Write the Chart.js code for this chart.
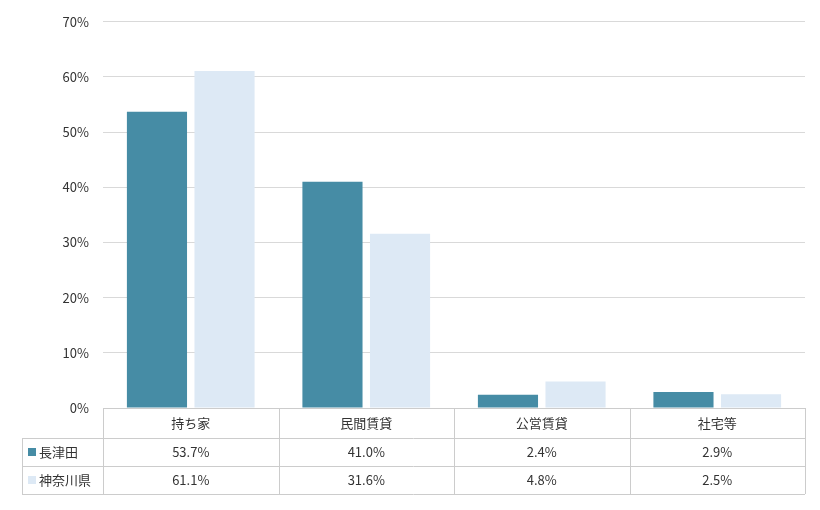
<!DOCTYPE html>
<html><head><meta charset="utf-8">
<script src="https://cdn.jsdelivr.net/npm/chart.js@4/dist/chart.umd.min.js"></script>
<style>body{margin:0;background:#fff}#wrap{width:820px;height:510px;position:relative}</style>
</head><body><div id="wrap"><canvas id="c"></canvas></div>
<script>
const categories = ['持ち家', '民間賃貸', '公営賃貸', '社宅等'];
const seriesNames = ['長津田', '神奈川県'];
const nagatsuta = [53.7, 41.0, 2.4, 2.9];
const kanagawa = [61.1, 31.6, 4.8, 2.5];
const colors = ['#468CA5', '#DDE9F5'];
const FONT = '"Noto Sans CJK JP", "Noto Sans", sans-serif';

const tablePlugin = {
    id: 'table',
    afterDraw(chart) {
        const ctx = chart.ctx;
        const x = chart.scales.x;
        const top = chart.chartArea.bottom;
        const rows = [top, top + 30, top + 58, top + 86];
        const left = 22, right = chart.chartArea.right, colL = chart.chartArea.left;
        const step = (right - colL) / categories.length;
        ctx.save();
        ctx.strokeStyle = '#cccccc';
        ctx.lineWidth = 1;
        ctx.beginPath();
        // horizontal lines
        ctx.moveTo(colL, rows[0] + 0.5); ctx.lineTo(right, rows[0] + 0.5);
        for (let i = 1; i < 4; i++) { ctx.moveTo(left, rows[i] + 0.5); ctx.lineTo(right, rows[i] + 0.5); }
        // vertical lines
        ctx.moveTo(left + 0.5, rows[1]); ctx.lineTo(left + 0.5, rows[3]);
        for (let i = 0; i <= categories.length; i++) {
            const xx = Math.round(colL + i * step) + 0.5;
            ctx.moveTo(xx, rows[0]); ctx.lineTo(xx, rows[3]);
        }
        ctx.stroke();
        ctx.fillStyle = '#333';
        ctx.font = '13px ' + FONT;
        ctx.textAlign = 'center';
        ctx.textBaseline = 'middle';
        categories.forEach((c, i) => {
            const cx = x.getPixelForValue(i);
            ctx.fillText(c, cx, (rows[0] + rows[1]) / 2);
            ctx.fillText(nagatsuta[i].toFixed(1) + '%', cx, (rows[1] + rows[2]) / 2);
            ctx.fillText(kanagawa[i].toFixed(1) + '%', cx, (rows[2] + rows[3]) / 2);
        });
        ctx.textAlign = 'left';
        seriesNames.forEach((n, i) => {
            const cy = (rows[i + 1] + rows[i + 2]) / 2;
            ctx.fillStyle = colors[i];
            ctx.fillRect(28, cy - 4, 8, 8);
            ctx.fillStyle = '#333';
            ctx.fillText(n, 39, cy);
        });
        ctx.restore();
    }
};

new Chart(document.getElementById('c'), {
    type: 'bar',
    data: {
        labels: categories,
        datasets: [
            { label: seriesNames[0], data: nagatsuta, backgroundColor: colors[0] },
            { label: seriesNames[1], data: kanagawa, backgroundColor: colors[1] }
        ]
    },
    options: {
        responsive: true,
        maintainAspectRatio: false,
        animation: false,
        layout: { padding: { top: 10, bottom: 94, right: 15 } },
        categoryPercentage: 0.77,
        barPercentage: 0.89,
        plugins: { legend: { display: false }, tooltip: { enabled: false } },
        scales: {
            x: { ticks: { display: false }, grid: { display: false }, border: { color: '#cccccc' } },
            y: {
                min: 0, max: 70,
                afterFit(s) { s.width = 103; },
                ticks: { stepSize: 10, callback: v => v + '%', color: '#333', font: { size: 13, family: FONT }, padding: 14 },
                grid: { color: '#d9d9d9', drawTicks: false },
                border: { display: false }
            }
        }
    },
    plugins: [tablePlugin]
});
</script></body></html>
